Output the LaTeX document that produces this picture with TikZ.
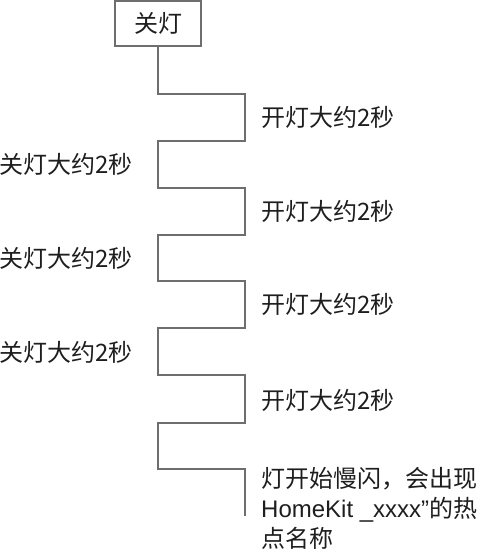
\documentclass[tikz,border=0pt]{standalone}
\usepackage{fontspec}
\setmainfont{Noto Sans CJK SC}
\newfontfamily\latinfont{Liberation Sans}
\definecolor{linegray}{HTML}{6E6E6E}
\definecolor{textgray}{HTML}{1E1E1E}
\tikzset{
  stepbox/.style={draw=linegray, line width=1.6pt, minimum width=86pt, minimum height=45pt, inner sep=0pt},
  wave/.style={draw=linegray, line width=1.6pt},
  lbl/.style={text=textgray, font=\fontsize{24}{30}\selectfont, inner sep=0pt}
}
\begin{document}
\begin{tikzpicture}[x=1pt, y=-1pt]
      \useasboundingbox (0,0) rectangle (494,550);

      % start box
      \node[stepbox, lbl] (off) at (158,23.5) {关灯};

      % end of the signal line
      \coordinate (tail) at (245,516);

      % on/off signal
      \draw[wave] (off.south) -- ++(0,47) -- ++(87,0) -- ++(0,47) -- ++(-87,0)
        -- ++(0,47) -- ++(87,0) -- ++(0,47) -- ++(-87,0)
        -- ++(0,46) -- ++(87,0) -- ++(0,47) -- ++(-87,0)
        -- ++(0,47) -- ++(87,0) -- ++(0,48) -- ++(-87,0)
        -- ++(0,46) -- ++(87,0) -- (tail);

      % on phases
      \node[lbl, anchor=west] (on1) at (261,117) {开灯大约2秒};
      \node[lbl, anchor=west] (on2) at (261,211) {开灯大约2秒};
      \node[lbl, anchor=west] (on3) at (261,304) {开灯大约2秒};
      \node[lbl, anchor=west] (on4) at (261,400) {开灯大约2秒};

      % off phases
      \node[lbl, anchor=west] (off1) at (-1,164) {关灯大约2秒};
      \node[lbl, anchor=west] (off2) at (-1,258) {关灯大约2秒};
      \node[lbl, anchor=west] (off3) at (-1,352) {关灯大约2秒};

      % result
      \node[lbl, anchor=north west, align=left] (blink) at (261,467)
        {灯开始慢闪，会出现\\{\latinfont HomeKit \_xxxx”}的热\\点名称};
    \end{tikzpicture}
\end{document}
